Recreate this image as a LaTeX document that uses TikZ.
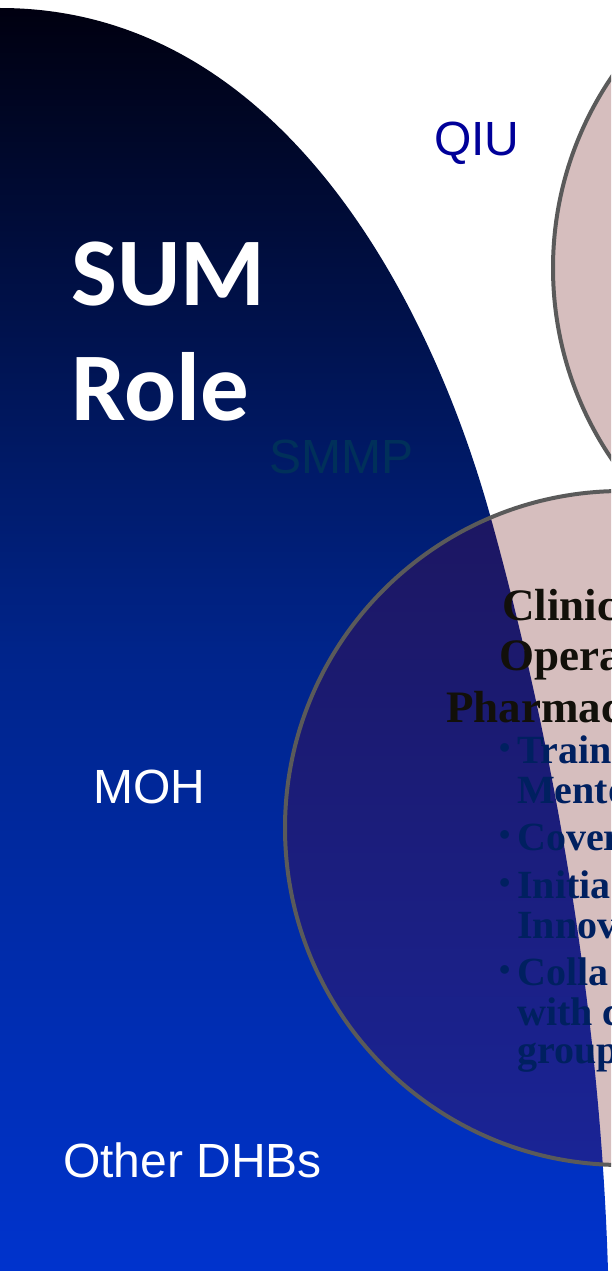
\documentclass[tikz,border=0pt]{standalone}
\usepackage{fontspec}
\usepackage{xcolor}
\newfontfamily\arialfont{Liberation Sans}
\newfontfamily\calibrifont{Carlito}
\newfontfamily\antiquafont{Liberation Serif}
\newcommand\bulletmark{\makebox[18pt][l]{\raisebox{5pt}{\fontsize{32}{32}\selectfont\textbullet}}}
\definecolor{SumTop}{HTML}{000010}
\definecolor{SumMid}{HTML}{00248A}
\definecolor{SumLow}{HTML}{0034CF}
\definecolor{VennPink}{HTML}{D6BEBE}
\definecolor{VennEdge}{HTML}{5A5A5A}
\definecolor{OverTop}{HTML}{1C1660}
\definecolor{OverLow}{HTML}{1A2496}
\definecolor{QiuBlue}{HTML}{000099}
\definecolor{SmmpTeal}{HTML}{00305A}
\definecolor{HeadInk}{HTML}{12100A}
\definecolor{BulletInk}{HTML}{002060}
\newcommand\sumarea{(-10,8) -- (0,8) .. controls (280,8) and (430,300) .. (490,515)
  .. controls (550,730) and (600,1000) .. (608,1271) -- (620,1290) -- (-10,1290) -- cycle}
\tikzset{
  bluearea/.style={top color=SumTop, bottom color=SumLow, middle color=SumMid},
  overlap/.style={top color=OverTop, bottom color=OverLow},
  vennline/.style={draw=VennEdge, line width=4pt},
  sidelabel/.style={font=\arialfont\fontsize{48}{54}\selectfont, inner sep=0pt, anchor=base west},
  rolebig/.style={font=\calibrifont\bfseries\fontsize{97}{115}\selectfont, align=left, inner sep=0pt, anchor=north west},
  headline/.style={font=\antiquafont\bfseries\fontsize{45}{50}\selectfont, text=HeadInk, inner sep=0pt, anchor=base west},
  bulletline/.style={font=\antiquafont\bfseries\fontsize{40}{40}\selectfont, text=BulletInk, inner sep=0pt, anchor=base west}
}
\begin{document}
\begin{tikzpicture}[x=1pt, y=-1pt]
    \path[use as bounding box] (0,0) rectangle (611,1271);
    \clip (0,0) rectangle (611,1271);
    \coordinate (qiuc) at (893,268);
    \coordinate (opsc) at (622,828);

    % role area and the two circles
    \shade[bluearea] \sumarea;
    \fill[VennPink] (qiuc) circle (340);
    \draw[vennline] (qiuc) circle (340);
    \fill[VennPink] (opsc) circle (337);
    \begin{scope}
      \clip \sumarea;
      \shade[overlap] (opsc) circle (337);
    \end{scope}
    \draw[vennline] (opsc) circle (337);

    % labels
    \node[rolebig, text=white] (sumrole) at (71,242) {SUM\\Role};
    \node[sidelabel, text=QiuBlue] (qiu) at (434,155) {QIU};
    \node[sidelabel, text=SmmpTeal] (smmp) at (269,473) {SMMP};
    \node[sidelabel, text=white] (moh) at (93,803) {MOH};
    \node[sidelabel, text=white] (dhbs) at (63,1177) {Other DHBs};

    \node[headline] (clin) at (502,620) {Clinic};
    \node[headline] (oper) at (499,670) {Opera};
    \node[headline] (phar) at (446,722) {Pharmac};
    \node[bulletline] (train) at (499,763) {\bulletmark Train};
    \node[bulletline] (mento) at (517,803) {Mento};
    \node[bulletline] (cover) at (499,850) {\bulletmark Cover};
    \node[bulletline] (initia) at (499,898) {\bulletmark Initia};
    \node[bulletline] (innov) at (517,938) {Innov};
    \node[bulletline] (colla) at (499,985) {\bulletmark Colla};
    \node[bulletline] (withc) at (517,1025) {with c};
    \node[bulletline] (group) at (517,1063) {group};
  \end{tikzpicture}
\end{document}
